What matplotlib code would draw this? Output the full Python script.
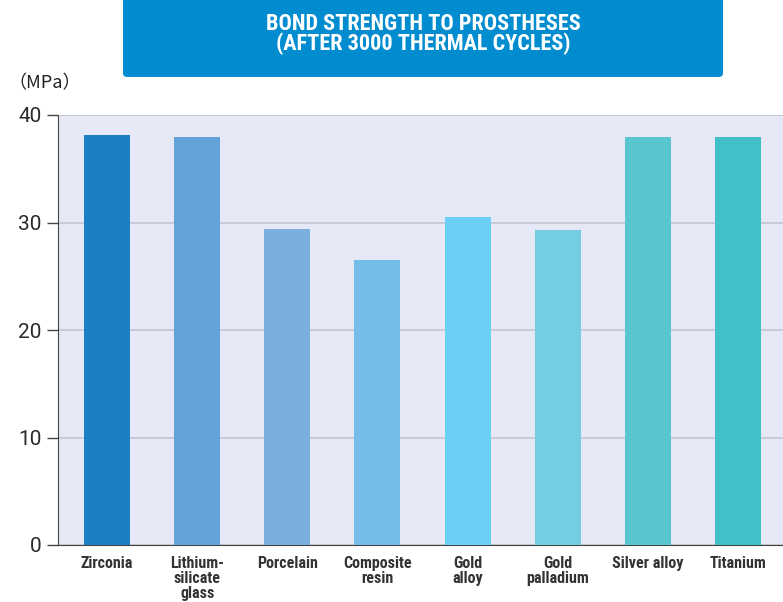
import matplotlib.pyplot as plt
from matplotlib.patches import FancyBboxPatch

categories = ["Zirconia", "Lithium-\nsilicate\nglass", "Porcelain", "Composite\nresin",
              "Gold\nalloy", "Gold\npalladium", "Silver alloy", "Titanium"]
values = [38.1, 38.0, 29.4, 26.5, 30.5, 29.3, 38.0, 38.0]
colors = ["#1a7fc4", "#62a4d9", "#7aaedd", "#74bde8",
          "#6ccff5", "#74cde0", "#59c5d0", "#42c0c7"]
yticks = [0, 10, 20, 30, 40]

narrow = ["Roboto Condensed", "DejaVu Sans"]
light = ["Roboto", "DejaVu Sans"]

W, H = 783, 602
fig = plt.figure(figsize=(W / 100, H / 100), dpi=100)
ax = fig.add_axes([58 / W, 1 - 545 / H, (W - 58) / W, (545 - 115) / H])

ax.set_facecolor("#e6e9f5")
ax.bar(range(len(values)), values, width=0.51, color=colors, zorder=3)
ax.set_xlim(-0.545, 7.5)
ax.set_ylim(0, 40)
ax.set_yticks(yticks)
ax.yaxis.grid(True, color="#c2c5d2", linewidth=1.2, zorder=1)
ax.set_yticklabels([str(v) for v in yticks], fontsize=15, color="#2a2a2a",
                   family=light, fontweight="normal")
ax.tick_params(axis="y", length=8, width=1, color="#444444", pad=4)
ax.tick_params(axis="x", length=0, pad=8)
ax.set_xticks(range(len(values)))
ax.set_xticklabels(categories, fontsize=11.5, fontweight="bold", family=narrow,
                   color="#333333", linespacing=0.98, va="top")
for s in ["top", "right"]:
    ax.spines[s].set_visible(False)
ax.spines["left"].set_color("#444444")
ax.spines["bottom"].set_color("#444444")

fig.text(8 / W, 1 - 83 / H, "（MPa）", fontsize=13, color="#222222", va="center",
         family=["Noto Sans CJK JP", "DejaVu Sans"])

box = FancyBboxPatch((123 / W, 1 - 77 / H), 600 / W, 90 / H,
                     boxstyle="round,pad=0,rounding_size=0.006",
                     transform=fig.transFigure, facecolor="#008ccf",
                     edgecolor="none")
fig.patches.append(box)
fig.text(423 / W, 1 - 34 / H, "BOND STRENGTH TO PROSTHESES\n(AFTER 3000 THERMAL CYCLES)",
         ha="center", va="center", fontsize=16, fontweight="bold", color="white",
         family=narrow, linespacing=0.88)

fig.savefig("out.png", dpi=100)
